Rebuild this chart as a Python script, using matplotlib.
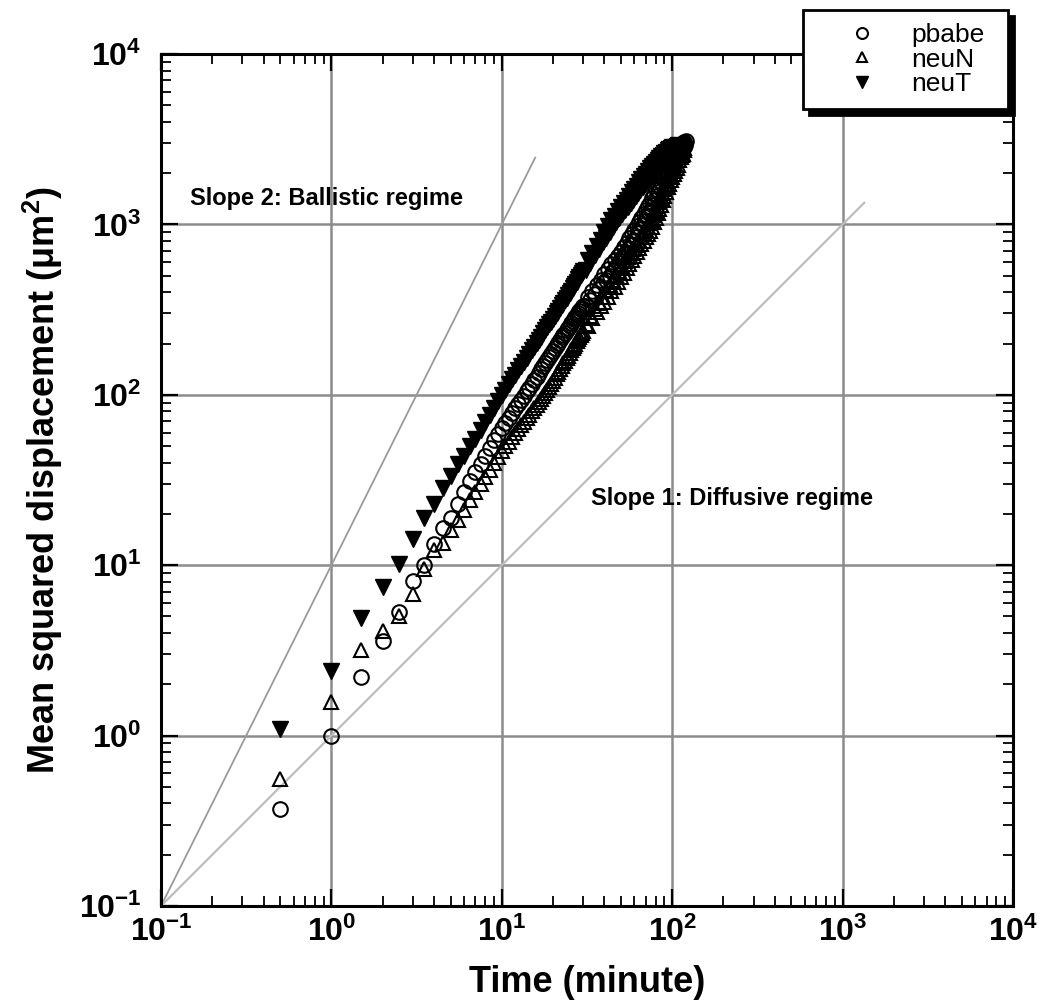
import matplotlib
matplotlib.use('Agg')
import matplotlib.pyplot as plt

plt.rcParams['font.family'] = ['Liberation Sans', 'DejaVu Sans']
plt.rcParams['mathtext.fontset'] = 'custom'
plt.rcParams['mathtext.rm'] = 'Liberation Sans'
plt.rcParams['mathtext.bf'] = 'Liberation Sans:bold'

# sampling times (minutes)
time_min = [0.5, 1, 1.5, 2, 2.5, 3, 3.5, 4, 4.5, 5, 5.5, 6, 6.5, 7, 7.5, 8, 8.5, 9, 9.5,
            10, 10.5, 11, 11.5, 12, 12.5, 13, 13.5, 14, 14.5, 15, 15.5, 16, 16.5, 17, 17.5,
            18, 18.5, 19, 19.5, 20, 20.5, 21, 21.5, 22, 22.5, 23, 23.5, 24, 24.5, 25, 25.5,
            26, 26.5, 27, 27.5, 28, 28.5, 29, 29.5, 30,
            31, 32, 33, 34, 35, 36, 37, 38, 39,
            40, 41, 42, 43, 44, 45, 46, 47, 48, 49,
            50, 51, 52, 53, 54, 55, 56, 57, 58, 59,
            60, 61, 62, 63, 64, 65, 66, 67, 68, 69,
            70, 71, 72, 73, 74, 75, 76, 77, 78, 79,
            80, 81, 82, 83, 84, 85, 86, 87, 88, 89,
            90, 91, 92, 93, 94, 95, 96, 97, 98, 99,
            100, 101, 102, 103, 104, 105, 106, 107, 108, 109,
            110, 111, 112, 113, 114, 115, 116, 117, 118, 119, 120]

# mean squared displacement (um^2)
pbabe = [0.37, 1.0, 2.2, 3.6, 5.3, 8.1, 10.0, 13.4, 16.5, 19, 23, 27, 31, 35, 39, 44, 49, 54, 59,
         64, 68.6, 73.5, 78.3, 83.4, 88.4, 93.6, 99, 104.6, 110, 116, 122, 128, 134, 141, 147,
         154, 160, 167, 174, 181, 188, 195, 202, 210, 217, 225, 232, 240, 247, 255, 263,
         271, 279, 288, 295, 303, 310, 317, 324, 332,
         332, 375, 361, 407, 390, 439, 420, 471, 450,
         513, 471, 548, 501, 582, 532, 617, 563, 653, 595,
         689, 631, 735, 672, 782, 714, 830, 758, 879, 802,
         930, 847, 981, 893, 1034, 940, 1090, 994, 1151, 1049,
         1215, 1105, 1278, 1163, 1344, 1222, 1421, 1300, 1512, 1382,
         1605, 1465, 1701, 1553, 1801, 1642, 1904, 1735, 2011, 1831,
         2120, 1917, 2203, 1990, 2285, 2064, 2370, 2140, 2456, 2217,
         2544, 2284, 2607, 2340, 2670, 2396, 2734, 2452, 2798, 2510,
         2780, 2650, 2850, 2720, 2920, 2790, 2990, 2860, 3050, 2930, 3100]
neuN = [0.56, 1.58, 3.2, 4.1, 5.0, 6.8, 9.5, 12.3, 13.5, 16, 18.5, 21, 24, 27, 30, 33, 36, 40, 43,
        47, 50, 53.2, 56.4, 59.7, 62.9, 66.3, 69.6, 73, 76.4, 80, 83.4, 87, 90.5, 94.2, 98,
        102, 106.5, 111.4, 116, 121, 126, 132, 137, 142, 147.5, 153, 158.5, 164, 170, 176, 182,
        188, 194, 200, 206, 212, 218, 225, 231, 238,
        261, 254, 290, 281, 319, 307, 346, 332, 374,
        351, 411, 377, 441, 404, 471, 432, 503, 460, 535,
        489, 569, 521, 606, 553, 643, 587, 681, 621, 720,
        656, 760, 692, 800, 728, 842, 765, 884, 803, 926,
        841, 970, 880, 1015, 920, 1060, 970, 1129, 1033, 1201,
        1097, 1275, 1165, 1352, 1233, 1431, 1308, 1520, 1388, 1612,
        1471, 1708, 1558, 1806, 1647, 1908, 1731, 1999, 1813, 2091,
        1897, 2187, 1982, 2284, 2070, 2385, 2154, 2474, 2234, 2564,
        2388, 2581, 2474, 2660, 2538, 2728, 2603, 2797, 2750]
neuT = [1.1, 2.4, 4.9, 7.4, 10.2, 14.3, 18.8, 23, 28.5, 33.5, 39, 44, 50, 55, 62, 69, 76, 84, 92,
        100, 107, 115, 123, 131, 139, 147.5, 156, 165, 173, 182, 191, 201, 210, 219, 229,
        239, 249, 259, 269, 279, 289, 300, 311, 323, 335, 347, 359, 371, 384, 396, 409,
        422, 435, 448, 462, 475, 489, 502, 516, 530,
        537, 614, 596, 678, 657, 745, 720, 815, 786,
        905, 836, 981, 905, 1060, 969, 1126, 1027, 1191, 1087,
        1259, 1147, 1327, 1207, 1396, 1269, 1467, 1333, 1540, 1398,
        1613, 1464, 1689, 1530, 1764, 1598, 1838, 1663, 1911, 1728,
        1985, 1794, 2060, 1860, 2135, 1927, 2205, 1983, 2268, 2039,
        2331, 2095, 2395, 2152, 2458, 2209, 2518, 2256, 2571, 2303,
        2624, 2350, 2677, 2397, 2730, 2444, 2775, 2478, 2813, 2512,
        2851, 2627, 2808, 2662, 2845, 2697, 2878, 2724, 2907, 2751,
        2850]

# guide lines: slope 2 (ballistic) and slope 1 (diffusive)
slope2_t = [0.1, 15.7]
slope2_msd = [0.1, 2465]
slope1_t = [0.1, 1340]
slope1_msd = [0.1, 1340]

decades = [0.1, 1, 10, 100, 1000, 10000]
decade_labels = [r'$\mathbf{10^{-1}}$', r'$\mathbf{10^{0}}$', r'$\mathbf{10^{1}}$',
                 r'$\mathbf{10^{2}}$', r'$\mathbf{10^{3}}$', r'$\mathbf{10^{4}}$']

fig = plt.figure(figsize=(10.5, 10.05), dpi=100)
ax = fig.add_axes([161/1050, 1 - 906/1005, 852/1050, 852/1005])
ax.set_xscale('log')
ax.set_yscale('log')
ax.set_xlim(0.1, 10000)
ax.set_ylim(0.1, 10000)

ax.grid(True, which='major', color='#8c8c8c', lw=1.8)
ax.set_axisbelow(True)

ax.plot(slope2_t, slope2_msd, color='#9a9a9a', lw=1.3, zorder=1.5)
ax.plot(slope1_t, slope1_msd, color='#bdbdbd', lw=1.6, zorder=1.5)

n_p, n_n, n_t = len(pbabe), len(neuN), len(neuT)
l1, = ax.plot(time_min[:n_p], pbabe, ls='none', marker='o', ms=10.5, mfc='none', mec='black', mew=1.5, label='pbabe')
l2, = ax.plot(time_min[:n_n], neuN, ls='none', marker='^', ms=10.5, mfc='none', mec='black', mew=1.5, label='neuN')
l3, = ax.plot(time_min[:n_t], neuT, ls='none', marker='v', ms=11, mfc='black', mec='black', mew=1.0, label='neuT')

ax.set_xticks(decades, labels=decade_labels)
ax.set_yticks(decades, labels=decade_labels)
ax.tick_params(which='both', direction='in', top=True, right=True)
ax.tick_params(which='major', length=12, width=1.6, labelsize=23)
ax.tick_params(which='minor', length=7, width=1.3)
ax.tick_params(axis='x', pad=8)
ax.tick_params(axis='y', pad=14)
for s in ax.spines.values():
    s.set_linewidth(2.2)

ax.set_xlabel('Time (minute)', fontsize=26, fontweight='bold', labelpad=12)
ax.set_ylabel('Mean squared displacement (μm$^{\\mathbf{2}}$)', fontsize=26, fontweight='bold', labelpad=10)

ax.text(0.148, 1417, 'Slope 2: Ballistic regime', fontsize=17, fontweight='bold', va='center', ha='left')
ax.text(33.6, 24.6, 'Slope 1: Diffusive regime', fontsize=17, fontweight='bold', va='center', ha='left')

leg = ax.legend(handles=[l1, l2, l3], loc='upper left', mode='expand',
                bbox_to_anchor=(803/1050, 1 - 10/1005, 205/1050, 0.0), bbox_transform=fig.transFigure,
                borderaxespad=0, fontsize=19, frameon=True, fancybox=False, framealpha=1, edgecolor='black',
                borderpad=0.5, labelspacing=0.02, handlelength=3.5, handletextpad=0.1,
                markerscale=0.75, numpoints=1,
                shadow={'ox': 4, 'oy': -4, 'facecolor': 'black', 'edgecolor': 'black', 'alpha': 1})
leg.get_frame().set_linewidth(2)
leg.set_zorder(10)

fig.savefig('out.png', dpi=100)
